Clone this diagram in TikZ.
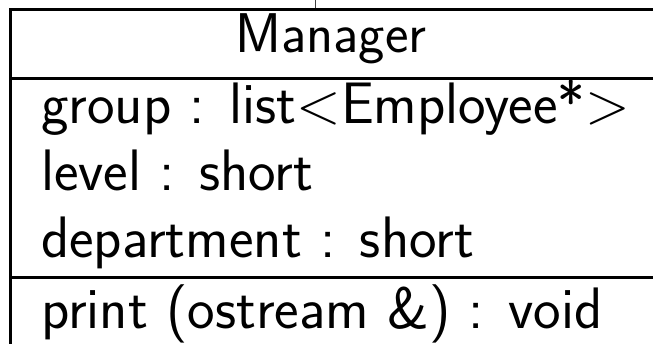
\RequirePackage{fix-cm}
\documentclass[tikz,border=0pt]{standalone}
\usepackage{fontspec}
\DeclareMathSizes{58.5}{58.5}{41}{29}
\begin{document}
\begin{tikzpicture}[x=1pt,y=1pt,
  frame/.style={draw=black, line width=2.6pt},
  umltext/.style={font=\sffamily\fontsize{58.5}{70}\selectfont, inner sep=0pt},
  attr/.style={umltext, anchor=base west}]
\useasboundingbox (0,0) rectangle (653,344);
\begin{scope}
  \clip (0,0) rectangle (653,344);
  % class box (extends past the visible area on the right and bottom)
  \node[frame, rectangle, anchor=north west, inner sep=0pt,
        minimum width=646.7pt, minimum height=345.5pt] (cls) at (9.3,335.5) {};
  % compartment separators
  \coordinate (s1) at (0,265.7);
  \coordinate (s2) at (0,66.3);
  \draw[frame] (cls.west |- s1) -- (cls.east |- s1);
  \draw[frame] (cls.west |- s2) -- (cls.east |- s2);
  % association line leaving the top of the class
  \coordinate (up) at (315,350);
  \draw[line width=0.8pt, black!75] (up) -- (up |- cls.north);
\end{scope}
% class name
\node[umltext, font=\sffamily\fontsize{56}{67}\selectfont, anchor=base] (name) at (331,291.3) {Manager};
% attributes
\node[attr] (a1) at (41,220) {group : list$<$Employee*$>$};
\node[attr] (a2) at (41,153) {level : short};
\node[attr] (a3) at (41,86) {department : short};
% operations
\node[attr] (o1) at (41,15.7) {print (ostream \&) : void};
\end{tikzpicture}
\end{document}
